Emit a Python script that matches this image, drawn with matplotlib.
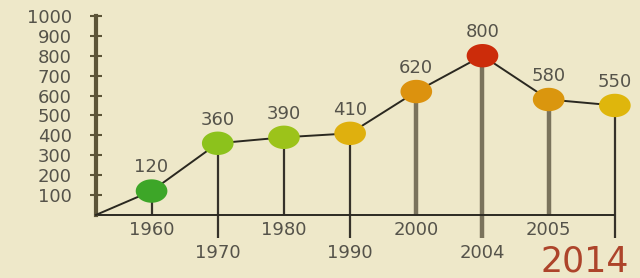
import matplotlib.pyplot as plt
import numpy as np
from matplotlib.path import Path
from matplotlib.markers import MarkerStyle

years = ['1960', '1970', '1980', '1990', '2000', '2004', '2005', '2014']
values = [120, 360, 390, 410, 620, 800, 580, 550]
dot_colors = ['#3da628', '#8cc21c', '#9cc31a', '#dfb00e', '#dc920e',
              '#cc2c0a', '#da960e', '#dfb60c']
y_ticks = [100, 200, 300, 400, 500, 600, 700, 800, 900, 1000]

bg = '#eee8c9'
txt = '#55534a'
x = np.arange(len(years))
x0 = -0.84  # where the axes meet

fig = plt.figure(figsize=(6.4, 2.78), dpi=100, facecolor=bg)
ax = fig.add_axes([0, 0, 1, 1], facecolor=bg)
ax.set_xlim(-2.29, 7.38)
ax.set_ylim(-317, 1080)

# flattened ellipse marker (the picture is stretched sideways)
t = np.linspace(0, 2 * np.pi, 60)
ell = MarkerStyle(Path(np.column_stack([np.cos(t), 0.74 * np.sin(t)])))

# y axis
for s in ['top', 'right', 'bottom']:
    ax.spines[s].set_visible(False)
ax.spines['left'].set_position(('data', x0))
ax.spines['left'].set_bounds(0, 1000)
ax.spines['left'].set_color('#5c5438')
ax.spines['left'].set_linewidth(3)
ax.set_yticks(y_ticks)
ax.set_yticklabels([str(v) for v in y_ticks])
ax.tick_params(axis='y', direction='inout', length=9, width=1.5, color='#5c5438',
               labelsize=13, labelcolor=txt, pad=13)
ax.set_xticks([])

# baseline
ax.hlines(0, x0, x[-1], color='#2c2a22', lw=1.4, zorder=2)

# stems: odd ones drop below the baseline, some are thicker and lighter
for i, (xi, v) in enumerate(zip(x, values)):
    bottom = -115 if i % 2 else 0
    if years[i] in ('2000', '2004', '2005'):
        ax.vlines(xi, bottom, v, color='#7a735c', lw=3.2, zorder=1)
    else:
        ax.vlines(xi, bottom, v, color='#36322a', lw=1.6, zorder=1)

# connecting line
ax.plot(np.r_[x0, x], np.r_[0, values], color='#2a2820', lw=1.4, zorder=3)

# dots
ax.scatter(x, values, s=520, marker=ell, c=dot_colors, zorder=4, linewidths=0)

# value labels
for xi, v in zip(x, values):
    ax.annotate(str(v), (xi, v), xytext=(0, 17), textcoords='offset points',
                ha='center', va='center', fontsize=13, color=txt)

# year labels, staggered
for i, (xi, yr) in enumerate(zip(x, years)):
    if yr == '2014':
        ax.text(xi - 0.45, -236, yr, ha='center', va='center', fontsize=25,
                color='#ad442a')
    else:
        ax.text(xi, -191 if i % 2 else -75, yr, ha='center', va='center',
                fontsize=13, color=txt)

fig.savefig('out.png', dpi=100, facecolor=bg)
